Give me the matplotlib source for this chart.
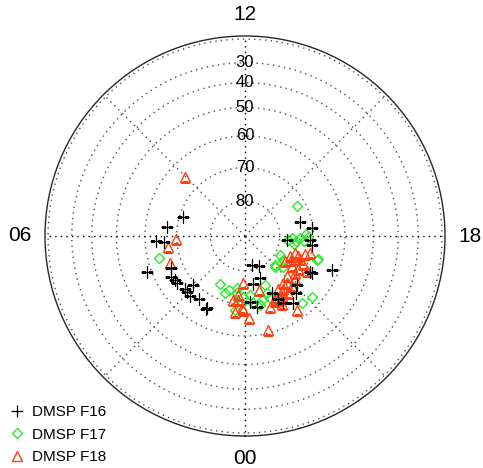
import numpy as np
import matplotlib.pyplot as plt

plt.rcParams['font.family'] = ['Liberation Sans', 'DejaVu Sans']

# magnetic local time (h) and magnetic latitude (deg) per satellite
f16_mlt = [7.16, 6.42, 5.80, 5.70, 4.64, 4.45, 4.06, 3.85, 3.69, 3.10, 3.25, 3.09,
           2.85, 2.41, 1.86, 23.13, 22.30, 23.35, 22.70, 1.87, 23.71, 23.37, 22.33,
           22.03, 21.65, 21.21, 19.95, 17.07, 17.56, 18.37, 18.23, 18.51, 19.43,
           19.92, 20.90, 22.15]
f16_lat = [71.1, 66.8, 63.5, 66.0, 58.6, 66.1, 64.8, 65.6, 65.7, 69.1, 66.4, 66.2,
           66.0, 67.2, 65.85, 81.4, 80.4, 75.8, 77.0, 65.5, 70.8, 69.0, 71.6,
           67.5, 65.6, 67.7, 67.5, 73.5, 70.4, 77.9, 71.0, 70.3, 62.3,
           68.2, 69.1, 69.0]

f17_mlt = [5.03, 1.83, 1.08, 0.55, 0.11, 0.51, 23.53, 22.52, 22.54, 21.05, 20.58,
           19.23, 20.82, 21.33, 23.18, 15.99, 18.35, 18.16, 18.37, 18.14, 18.32,
           18.06, 17.87, 18.62, 19.17, 20.13, 20.93, 22.62, 23.68, 0.19, 0.60,
           19.90, 23.01, 1.29]
f17_lat = [63.6, 74.2, 73.7, 73.2, 72.3, 68.1, 70.2, 74.7, 70.4, 77.6, 75.8,
           67.8, 63.2, 63.9, 69.3, 72.4, 77.5, 76.4, 75.2, 74.0, 72.8,
           71.6, 72.2, 75.6, 67.4, 76.9, 78.0, 72.2, 72.8, 70.3, 74.6,
           78.5, 70.7, 72.4]

f18_mlt = [8.97, 5.85, 5.44, 4.69, 0.14, 23.01, 0.40, 0.17, 0.50, 23.80, 23.07,
           21.65, 22.70, 22.17, 21.77, 21.87, 21.37, 20.92, 21.13, 21.90, 21.51,
           20.73, 22.27, 19.60, 19.23, 19.53, 19.13, 18.96, 20.18, 20.13, 19.97,
           20.13, 19.73, 0.69, 0.43, 21.24, 22.35, 22.10, 0.09, 19.40, 19.85,
           20.45, 21.60]
f18_lat = [65.0, 69.7, 67.2, 66.6, 76.5, 73.8, 71.2, 68.8, 67.5, 65.7, 61.0,
           63.1, 68.0, 68.9, 70.5, 71.7, 72.4, 73.2, 70.0, 69.4, 69.1,
           70.7, 69.9, 75.8, 74.7, 72.6, 71.7, 70.4, 73.9, 71.7, 69.2,
           76.3, 71.1, 71.0, 72.7, 71.6, 69.0, 67.2, 68.3, 73.4, 74.8,
           72.0, 70.9]

ring_lats = [80, 70, 60, 50, 40, 30, 10]
label_lats = [80, 70, 60, 50, 40, 30]
hour_labels = {0: '00', 6: '06', 12: '12', 18: '18'}


def th(mlt):
    return np.radians(np.asarray(mlt) * 15.0)


def rr(lat):
    return np.cos(np.radians(np.asarray(lat)))


fig = plt.figure(figsize=(4.83, 4.68), dpi=100)
ax = fig.add_axes([45 / 483, 32 / 468, 400 / 483, 400 / 468], projection='polar')
ax.set_theta_zero_location('S')
ax.set_theta_direction(-1)
ax.set_ylim(0, 1)
ax.set_xticks([])
ax.set_yticks([])
ax.grid(False)
ax.spines['polar'].set_linewidth(1.0)
ax.spines['polar'].set_color('0.15')

dots = (0, (1, 3))
full = np.linspace(0, 2 * np.pi, 400)
for lat in ring_lats:
    ax.plot(full, np.full_like(full, rr(lat)), color='0.3', lw=1.0, ls=dots, zorder=1)
for h in range(0, 24, 3):
    c = 'k' if h % 6 == 0 else '0.3'
    ax.plot([th(h), th(h)], [0, 1], color=c, lw=1.0, ls=dots, zorder=1)

for lat in label_lats:
    ax.text(th(12), rr(lat), str(lat), ha='center', va='center', fontsize=12)

for h, s in hour_labels.items():
    off = 1.11 if h in (0, 12) else 1.125
    ax.text(th(h), off, s, ha='center', va='center', fontsize=15, clip_on=False)

ax.plot(th(f17_mlt), rr(f17_lat), ls='none', marker='D', ms=5.5, mfc='none',
        mec='#22ee22', mew=1.0, label='DMSP F17', zorder=3)
ax.plot(th(f18_mlt), rr(f18_lat), ls='none', marker='^', ms=7.5, mfc='none',
        mec='#ff4010', mew=1.0, label='DMSP F18', zorder=4)
ax.plot(th(f16_mlt), rr(f16_lat), ls='none', marker='+', ms=8, color='k',
        mew=0.9, label='DMSP F16', zorder=5)

h, l = ax.get_legend_handles_labels()
order = [2, 0, 1]
fig.legend([h[i] for i in order], [l[i] for i in order], loc='lower left',
           bbox_to_anchor=(0.011, 0.0), frameon=False, fontsize=11,
           handlelength=1.0, handletextpad=0.5, labelspacing=0.55,
           borderaxespad=0.0, borderpad=0.25)

fig.savefig('out.png', dpi=100)
